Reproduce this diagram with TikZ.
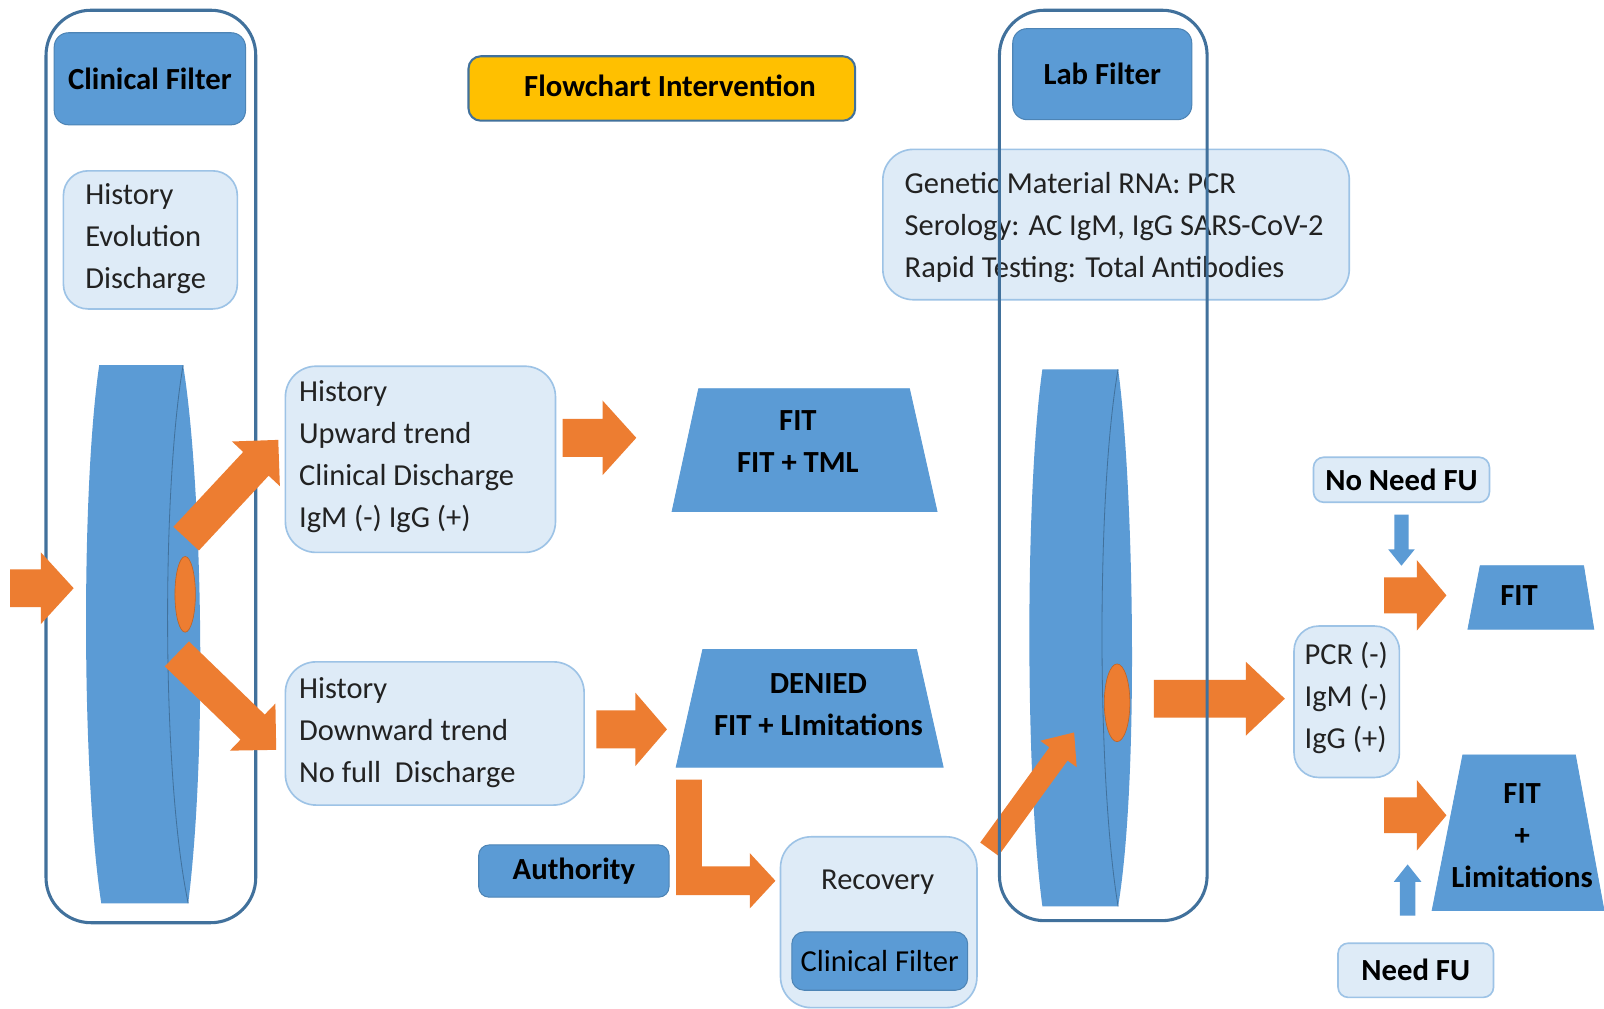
\documentclass[tikz,border=0pt]{standalone}
\usepackage{fontspec}
\setmainfont{Carlito}
\usetikzlibrary{shapes.geometric}
\definecolor{bluef}{HTML}{5B9BD5}
\definecolor{bluedk}{HTML}{41719C}
\definecolor{lightf}{HTML}{DEEBF7}
\definecolor{lightbd}{HTML}{9DC3E6}
\definecolor{orangec}{HTML}{ED7D31}
\definecolor{yellowc}{HTML}{FFC000}
\definecolor{txtc}{HTML}{222222}
\tikzset{
  bluebox/.style={draw=bluef!85!black, fill=bluef, line width=0.5pt, rounded corners=7pt},
  lightbox/.style={draw=lightbd, fill=lightf, line width=0.8pt, rounded corners=12pt},
  bigbox/.style={draw=lightbd, fill=lightf, line width=0.8pt, rounded corners=15pt},
  framebox/.style={draw=bluedk, line width=1.5pt, rounded corners=22pt},
  regtext/.style={font=\fontsize{14.9}{20.5}\selectfont, text=txtc, align=left, inner sep=0pt},
  boldtext/.style={font=\bfseries\fontsize{15}{20.5}\selectfont, text=black, align=center, inner sep=0pt},
  trap/.style={fill=bluef, draw=bluef, line width=0.4pt},
  hole/.style={ellipse, fill=orangec, draw=orangec!80!black, line width=0.3pt, inner sep=0pt},
}
% rounded box node from corner (x1,y1) to (x2,y2)
\newcommand{\rbox}[7]{\node[#2, minimum width={0.5pt*(#5-#3)}, minimum height={0.5pt*(#6-#4)}, inner sep=0pt] (#1) at ({(#3+#5)/2},{(#4+#6)/2}) {#7};}
% block arrow: tip, angle, length, shaft half, head half, head length, colour
\newcommand{\blockarr}[7]{\fill[#7, shift={#1}, rotate=#2] (-#3,-#4) -- (-#6,-#4) -- (-#6,-#5) -- (0,0) -- (-#6,#5) -- (-#6,#4) -- (-#3,#4) -- cycle;}
\begin{document}
\begin{tikzpicture}[x=0.5pt,y=-0.5pt]
\fill[white] (0,0) rectangle (1568,986);
\useasboundingbox (0,0) rectangle (1568,986);

% ---------- left column ----------
\rbox{leftframe}{framebox}{45}{10}{250}{902}{}
\rbox{cf}{bluebox, boldtext}{53}{32}{240}{122}{Clinical Filter}
\rbox{hed}{lightbox}{62}{167}{232}{302}{}
\node[regtext, anchor=west] (hedt) at (83,233) {History\\Evolution\\Discharge};

% left disk
\fill[bluef] (97,357) -- (179,357) .. controls (196,460) and (204,720) .. (184,883) -- (99,883) .. controls (80,760) and (79,480) .. (97,357) -- cycle;
\draw[bluedk, line width=0.4pt] (179,357) .. controls (158,480) and (158,760) .. (184,883);
\node[hole, minimum width=10pt, minimum height=37pt] (hole1) at (181,581) {};

% input arrow
\blockarr{(72,575)}{0}{62}{18.5}{35}{32}{orangec}
% diagonal arrows from left disk
\blockarr{(272,430)}{47}{132}{17}{32}{32}{orangec}
\blockarr{(270,733)}{-44}{135}{17}{32}{32}{orangec}

% ---------- middle ----------
\rbox{flow}{draw=bluedk, fill=yellowc, line width=1pt, rounded corners=6pt}{458}{55}{836}{118}{}
\node[boldtext] (flowt) at (655,84) {Flowchart Intervention};

\rbox{up}{bigbox}{279}{358}{543}{540}{}
\node[regtext, anchor=west] (upt) at (292,446.5) {History\\Upward trend\\Clinical Discharge\\IgM (-) IgG (+)};
\rbox{down}{bigbox}{279}{647}{571}{787}{}
\node[regtext, anchor=west] (downt) at (292,716) {History\\Downward trend\\No full\ \ Discharge};

\blockarr{(622,428)}{0}{72}{18.5}{36.5}{33}{orangec}
\blockarr{(652,713)}{0}{69}{18.5}{36}{31}{orangec}

\fill[trap] (683,380) -- (889,380) -- (916,500) -- (657,500) -- cycle;
\node[boldtext] (fit1) at (780,432) {FIT\\FIT + TML};
\fill[trap] (687,635) -- (896,635) -- (922,750) -- (661,750) -- cycle;
\node[boldtext] (denied) at (800,689) {DENIED\\FIT + LImitations};

% L-shaped arrow
\fill[orangec] (661,762) -- (686,762) -- (686,847) -- (733,847) -- (733,834) -- (758,861) -- (733,888) -- (733,875) -- (661,875) -- cycle;

\rbox{auth}{bluebox, rounded corners=5pt, boldtext}{468}{826}{654}{877}{Authority}
\rbox{rec}{bigbox}{763}{818}{955}{985}{}
\node[regtext] (rect) at (858,862) {Recovery};
\rbox{cf2}{bluebox, rounded corners=6pt, regtext, text=black}{774}{911}{946}{968}{Clinical Filter}

% ---------- lab column ----------
\rbox{lab}{bluebox, boldtext}{990}{28}{1165}{117}{Lab Filter}
\rbox{info}{bigbox}{863}{146}{1319}{293}{}
\node[regtext, anchor=west] (infot) at (884,222) {Genetic Material RNA: PCR\\Serology: AC IgM, IgG SARS-CoV-2\\Rapid Testing: Total Antibodies};

\fill[bluef] (1019,361) -- (1093,361) .. controls (1108,470) and (1114,760) .. (1093,886) -- (1019,886) .. controls (1002,760) and (1002,480) .. (1019,361) -- cycle;
\draw[bluedk, line width=0.4pt] (1093,361) .. controls (1072,480) and (1072,760) .. (1093,886);
\node[hole, minimum width=12.5pt, minimum height=38pt] (hole2) at (1092,687) {};

\blockarr{(1050,716)}{54}{141}{11}{22}{26}{orangec}
\blockarr{(1256,683)}{0}{128}{18.5}{36}{38}{orangec}

\rbox{labframe}{framebox}{977}{10}{1180}{900}{}

% ---------- right ----------
\rbox{pcr}{lightbox}{1265}{612}{1368}{760}{}
\node[regtext, anchor=west] (pcrt) at (1275,682) {PCR (-)\\IgM (-)\\IgG (+)};

\rbox{nneed}{lightbox, rounded corners=5pt, boldtext}{1284}{447}{1456}{491}{No Need FU}
\blockarr{(1370,553)}{-90}{50}{7}{13}{16}{bluef}
\blockarr{(1414,582)}{0}{61}{17.5}{34.5}{29}{orangec}
\fill[trap] (1447,553) -- (1548,553) -- (1558,615) -- (1435,615) -- cycle;
\node[boldtext] (fit2) at (1485,582) {FIT};

\blockarr{(1414,797)}{0}{61}{17.5}{34.5}{29}{orangec}
\fill[trap] (1430,738) -- (1540,738) -- (1568,890) -- (1400,890) -- cycle;
\node[boldtext] (fit3) at (1488,817) {FIT\\+\\Limitations};
\blockarr{(1376,845)}{90}{50}{7.5}{13.5}{17}{bluef}
\rbox{need}{lightbox, rounded corners=5pt, boldtext}{1308}{922}{1460}{975}{Need FU}
\end{tikzpicture}
\end{document}
